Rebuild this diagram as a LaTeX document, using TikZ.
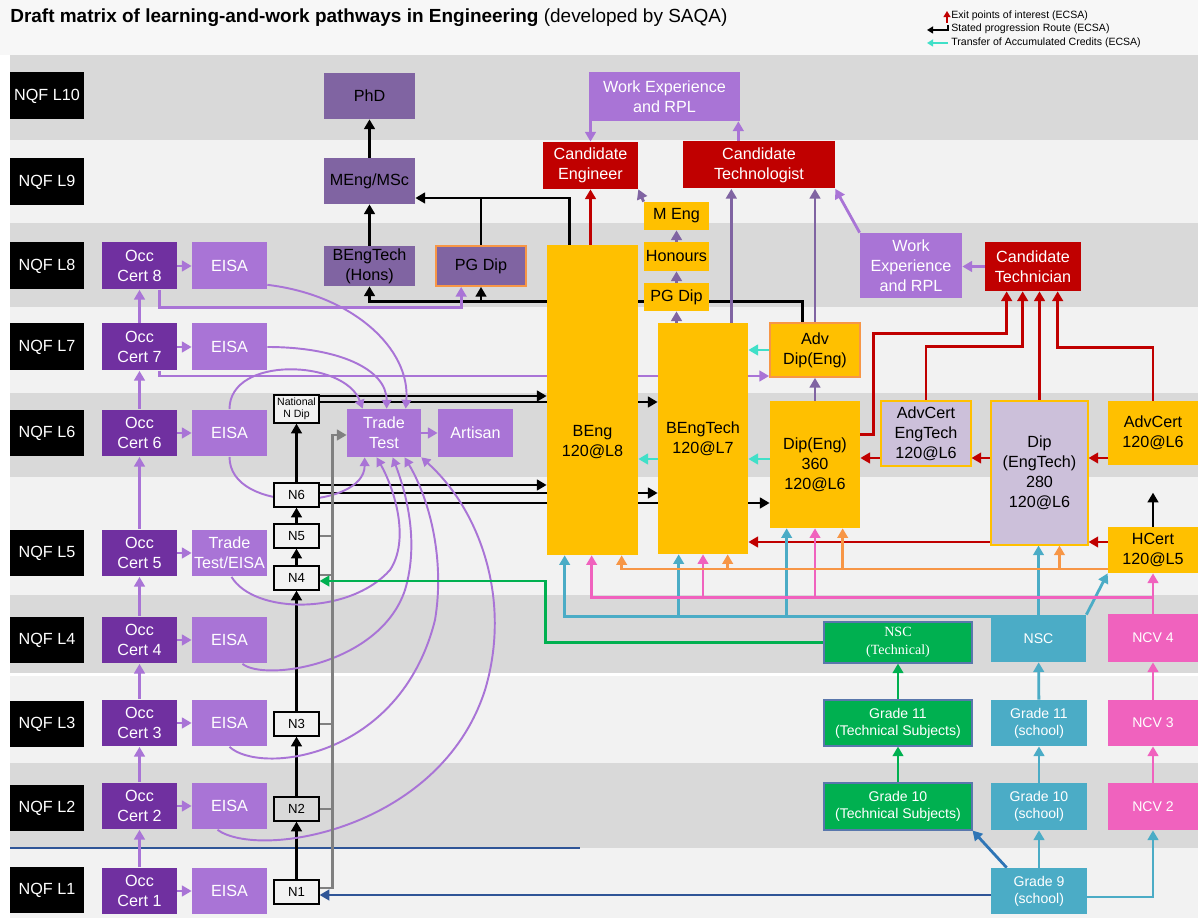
\documentclass[tikz,border=0pt]{standalone}
\usepackage{fontspec}
\setmainfont{Liberation Sans}
\newfontfamily\nscserif{Liberation Serif}
\usetikzlibrary{arrows.meta,calc,positioning}
\definecolor{banddark}{HTML}{D9D9D9}
\definecolor{bandlight}{HTML}{F2F2F2}
\definecolor{occpurple}{HTML}{7030A0}
\definecolor{eisapurple}{HTML}{A974D6}
\definecolor{degpurple}{HTML}{8064A2}
\definecolor{candred}{HTML}{C00000}
\definecolor{qualyellow}{HTML}{FFC000}
\definecolor{lavender}{HTML}{CCC0DA}
\definecolor{techgreen}{HTML}{00B050}
\definecolor{schoolblue}{HTML}{4BACC6}
\definecolor{ncvpink}{HTML}{F062BE}
\definecolor{hcorange}{HTML}{F79646}
\definecolor{xfercyan}{HTML}{40E0C8}
\definecolor{navyline}{HTML}{2F5597}
\definecolor{diagblue}{HTML}{2E75B6}
\pgfdeclarelayer{bands}
\pgfdeclarelayer{wires}
\pgfsetlayers{bands,wires,main}

\begin{document}
\begin{tikzpicture}[x=0.02cm, y=-0.02cm, >={Triangle[length=5.5pt,width=6pt]},
  box/.style={rectangle, inner sep=1pt, align=center, font=\fontsize{9.2}{11.3}\selectfont},
  nqf/.style={box, fill=black, text=white, minimum width=1.48cm, minimum height=0.94cm},
  occ/.style={box, fill=occpurple, text=white, minimum width=1.5cm, minimum height=0.94cm},
  eisa/.style={box, fill=eisapurple, text=white, minimum width=1.5cm, minimum height=0.94cm},
  nlev/.style={box, draw=black, fill=bandlight, line width=0.7pt, minimum width=0.9cm, minimum height=0.48cm, font=\fontsize{7.5}{8}\selectfont},
  deg/.style={box, fill=degpurple, text=black, minimum width=1.82cm, minimum height=0.92cm},
  cand/.style={box, fill=candred, text=white, minimum height=0.94cm},
  wexp/.style={box, fill=eisapurple, text=white},
  qual/.style={box, fill=qualyellow, text=black},
  lav/.style={box, fill=lavender, draw=qualyellow, line width=0.6pt, text=black},
  tech/.style={box, fill=techgreen, draw=navyline!80, line width=0.6pt, text=white, minimum width=2.96cm, font=\fontsize{8}{9.8}\selectfont},
  school/.style={box, fill=schoolblue, text=white, minimum width=1.92cm, minimum height=0.92cm, font=\fontsize{8}{9.8}\selectfont},
  ncv/.style={box, fill=ncvpink, text=white, minimum width=1.8cm, minimum height=0.94cm, font=\fontsize{8}{9.8}\selectfont},
  prog/.style={draw=black, line width=1.6pt, ->},
  exitl/.style={draw=candred, line width=1.6pt, ->},
  degl/.style={draw=degpurple, line width=1.6pt, ->},
  wl/.style={draw=eisapurple, line width=1.6pt, ->},
  arcl/.style={draw=eisapurple, line width=1.1pt, >={Triangle[length=5pt,width=5.5pt]}, ->},
  xfer/.style={draw=xfercyan, line width=1.6pt, ->},
  grayl/.style={draw=gray, line width=1.6pt, ->},
  greenl/.style={draw=techgreen, line width=1.6pt, ->},
  bluel/.style={draw=schoolblue, line width=1.6pt, ->},
  pinkl/.style={draw=ncvpink, line width=1.6pt, ->},
  orangel/.style={draw=hcorange, line width=1.6pt, ->},
  navyl/.style={draw=navyline, line width=1.6pt, ->},
  legtip/.style={line width=1pt, >={Triangle[length=3.5pt,width=4pt]}}]
\useasboundingbox (0,0) rectangle (1198,918);

% bands
\begin{pgfonlayer}{bands}
\fill[white] (0,0) rectangle (1198,918);
\fill[black!3] (0,0) rectangle (1198,55);
\fill[banddark] (10,55) rectangle (1198,140);
\fill[bandlight] (10,140) rectangle (1198,223);
\fill[banddark] (10,223) rectangle (1198,307);
\fill[bandlight] (10,307) rectangle (1198,393);
\fill[banddark] (10,393) rectangle (1198,477);
\fill[bandlight] (10,477) rectangle (1198,595);
\fill[banddark] (10,595) rectangle (1198,673);
\fill[bandlight] (10,676) rectangle (1198,763);
\fill[banddark] (10,763) rectangle (1198,848);
\fill[bandlight] (10,848) rectangle (1198,918);
\draw[navyline, line width=0.8pt] (10,848) -- (580,848);
\end{pgfonlayer}

% title and legend
\node[anchor=west, inner sep=0pt, font=\fontsize{10.8}{13}\selectfont] (title) at (10,18) {\textbf{Draft matrix of learning-and-work pathways in Engineering} (developed by SAQA)};
\node[anchor=west, inner sep=0pt, font=\fontsize{6}{7}\selectfont] (lgexit) at (951,16) {Exit points of interest (ECSA)};
\node[anchor=west, inner sep=0pt, font=\fontsize{6}{7}\selectfont] (lgprog) at (951,29) {Stated progression Route (ECSA)};
\node[anchor=west, inner sep=0pt, font=\fontsize{6}{7}\selectfont] (lgxfer) at (951,43) {Transfer of Accumulated Credits (ECSA)};
\draw[exitl, legtip] ($(lgexit.west)+(-4,7)$) -- ($(lgexit.west)+(-4,-5)$);
\draw[prog, legtip] ($(lgprog.west)+(-3,-4)$) -- ($(lgprog.west)+(-3,1)$) -- ($(lgprog.west)+(-24,1)$);
\draw[xfer, legtip] ($(lgxfer.west)+(-3,0)$) -- ($(lgxfer.west)+(-24,0)$);

% levels, occupational certificates, EISA
\foreach \lv/\yy in {10/96,9/182,8/266,7/347,6/433,5/553,4/640,3/724,2/808,1/890}
  \node[nqf] (nqf\lv) at (47,\yy) {NQF L\lv};
\foreach \lv/\yy in {8/266,7/347,6/433,5/553,4/640,3/723,2/806,1/891}
  \node[occ] (occ\lv) at (139.5,\yy) {Occ\\Cert \lv};
\foreach \lv/\yy in {8/266,7/347,6/433,4/640,3/723,2/806,1/891}
  \node[eisa] (eisa\lv) at (229.5,\yy) {EISA};
\node[eisa] (eisa5) at (229.5,553) {Trade\\Test/EISA};

% N levels
\node[nlev] (n1) at (296.5,892) {N1};
\node[nlev, fill=banddark] (n2) at (296.5,809) {N2};
\node[nlev] (n3) at (296.5,724) {N3};
\node[nlev] (n4) at (296.5,578) {N4};
\node[nlev] (n5) at (296.5,536) {N5};
\node[nlev] (n6) at (296.5,495) {N6};
\node[nlev, minimum height=0.56cm, font=\fontsize{6}{6.8}\selectfont] (nnd) at (296.5,409) {National\\N Dip};
\node[eisa, minimum width=1.48cm, minimum height=0.96cm] (trade) at (384,433) {Trade\\Test};
\node[eisa, minimum height=0.96cm] (artisan) at (475.5,433) {Artisan};

% postgraduate
\node[deg] (phd) at (369.5,96) {PhD};
\node[deg] (meng) at (369.5,181) {MEng/MSc};
\node[deg, minimum height=0.8cm] (hons) at (369.5,266) {BEngTech\\(Hons)};
\node[deg, draw=hcorange, line width=1pt, minimum width=1.8cm, minimum height=0.8cm] (pgdip) at (481,266) {PG Dip};

% degrees
\node[qual, minimum width=1.82cm, minimum height=6.2cm] (beng) at (592.5,400) {};
\node[box, text=black] (bengtxt) at (592.5,442) {BEng\\120@L8};
\node[qual, minimum width=1.8cm, minimum height=4.62cm] (bengtech) at (703,438.5) {BEngTech\\120@L7};
\node[qual, minimum width=1.3cm, minimum height=0.56cm] (pgy) at (676.5,297) {PG Dip};
\node[qual, minimum width=1.3cm, minimum height=0.58cm] (honours) at (676.5,256.5) {Honours};
\node[qual, minimum width=1.3cm, minimum height=0.56cm] (mengy) at (676.5,216) {M Eng};

% candidates and work experience
\node[cand, minimum width=1.9cm] (ceng) at (590.5,165.5) {Candidate\\Engineer};
\node[cand, minimum width=3.04cm] (ctech) at (759,165) {Candidate\\Technologist};
\node[wexp, minimum width=3.02cm, minimum height=0.98cm] (wetop) at (664.5,96.5) {Work Experience\\and RPL};
\node[wexp, minimum width=2.04cm, minimum height=1.3cm] (wemid) at (911,265.5) {Work\\Experience\\and RPL};
\node[cand, minimum width=1.92cm, minimum height=0.98cm] (ctn) at (1033,266.5) {Candidate\\Technician};

% diplomas and certificates
\node[qual, draw=hcorange, line width=1pt, minimum width=1.8cm, minimum height=1.08cm] (advdip) at (815,350) {Adv\\Dip(Eng)};
\node[qual, minimum width=1.8cm, minimum height=2.54cm] (dipeng) at (815,464.5) {Dip(Eng)\\360\\120@L6};
\node[lav, minimum width=1.8cm, minimum height=1.3cm] (ace) at (926,433.5) {AdvCert\\EngTech\\120@L6};
\node[lav, minimum width=1.94cm, minimum height=2.88cm] (det) at (1039.5,473) {Dip\\(EngTech)\\280\\120@L6};
\node[qual, minimum width=1.8cm, minimum height=1.28cm] (acl6) at (1153,433) {AdvCert\\120@L6};
\node[qual, minimum width=1.8cm, minimum height=0.92cm] (hcert) at (1153,550) {HCert\\120@L5};

% school and NCV
\node[tech, minimum height=0.82cm, font=\fontsize{8}{10}\nscserif] (nsct) at (898,642.5) {NSC\\(Technical)};
\node[tech, minimum height=0.92cm] (gr11t) at (898,723) {Grade 11\\(Technical Subjects)};
\node[tech, minimum height=0.94cm] (gr10t) at (898,806.5) {Grade 10\\(Technical Subjects)};
\node[school, minimum width=1.9cm, minimum height=0.94cm] (nsc) at (1038.5,638.5) {NSC};
\node[school] (gr11s) at (1039,723) {Grade 11\\(school)};
\node[school, minimum height=0.94cm] (gr10s) at (1039,806.5) {Grade 10\\(school)};
\node[school] (gr9) at (1039,891) {Grade 9\\(school)};
\node[ncv, minimum height=0.96cm] (ncv4) at (1153,638) {NCV 4};
\node[ncv, minimum height=0.92cm] (ncv3) at (1153,723) {NCV 3};
\node[ncv] (ncv2) at (1153,806.5) {NCV 2};

\begin{pgfonlayer}{wires}
% stated progression
\draw[prog] (meng) -- (phd);
\draw[prog] (hons) -- (meng);
\coordinate (mjoin) at ($(meng.east)+(0,17)$);
\draw[prog] ($(beng.north west)+(23,0)$) |- (mjoin);
\draw[prog, -] (pgdip.north) -- (pgdip.north |- mjoin);
\draw[prog] ($(advdip.north west)+(33,0)$) |- ($(hons.south)+(0,15)$) -- (hons.south);
\draw[prog] ($(pgdip.south)+(0,14)$) -- (pgdip.south);
\draw[prog] (n1) -- (n2);
\draw[prog] (n2) -- (n3);
\draw[prog] (n3) -- (n4);
\draw[prog] (n4) -- (n5);
\draw[prog] (n5) -- (n6);
\draw[prog] (n6) -- (nnd);
\coordinate (nd1) at ($(nnd.east)+(0,-13)$);
\coordinate (nd2) at ($(nnd.east)+(0,-7)$);
\draw[prog] (nd1) -- (nd1 -| beng.west);
\draw[prog] (nd2) -- (nd2 -| bengtech.west);
\coordinate (n6a) at ($(n6.east)+(0,-10)$);
\coordinate (n6b) at ($(n6.east)+(0,-2)$);
\coordinate (n6c) at ($(n6.east)+(0,8)$);
\draw[prog] (n6a) -- (n6a -| beng.west);
\draw[prog] (n6b) -- (n6b -| bengtech.west);
\draw[prog] (n6c) -- (n6c -| dipeng.west);
\coordinate (hcup) at ($(hcert.north)+(0,-34)$);
\draw[prog] (hcert.north) -- (hcup);

% exit points
\draw[exitl] (beng.north -| ceng.south) -- (ceng.south);
\draw[exitl] ($(dipeng.east)+(0,-30)$) -- ++(13,0) |- ($(ctn.south west)+(22,42)$) -- ($(ctn.south west)+(22,0)$);
\draw[exitl] (ace.north) |- ($(ctn.south west)+(38,55)$) -- ($(ctn.south west)+(38,0)$);
\draw[exitl] (det.north) -- (det.north |- ctn.south);
\draw[exitl] (acl6.north) |- ($(ctn.south west)+(73,56)$) -- ($(ctn.south west)+(73,0)$);
\coordinate (r1) at ($(acl6.west)+(0,25)$);
\coordinate (r2) at (det.west |- r1);
\coordinate (r3) at (ace.west |- r1);
\draw[exitl] (r1) -- (r1 -| det.east);
\draw[exitl] (r2) -- (r2 -| ace.east);
\draw[exitl] (r3) -- (r3 -| dipeng.east);
\coordinate (r4) at ($(hcert.west)+(0,-8)$);
\coordinate (r5) at (det.west |- r4);
\draw[exitl] (r4) -- (r4 -| det.east);
\draw[exitl] (r5) -- (r5 -| bengtech.east);

% degree routes
\draw[degl] (pgy) -- (honours);
\draw[degl] (honours) -- (mengy);
\draw[degl] (pgy.south |- bengtech.north) -- (pgy.south);
\draw[degl] (mengy.north west) -- (ceng.south east);
\coordinate (bt1) at ($(bengtech.north east)+(-17,0)$);
\draw[degl] (bt1) -- (bt1 |- ctech.south);
\draw[degl] (advdip.north) -- (advdip.north |- ctech.south);
\draw[degl] (dipeng) -- (advdip);

% work experience and occupational routes
\draw[wl] (wetop.south -| ceng.north) -- (ceng.north);
\coordinate (wt) at ($(wetop.south east)+(-2,0)$);
\draw[wl] (wt |- ctech.north) -- (wt);
\draw[wl] (wemid.north west) -- (ctech.south east);
\draw[wl] (ctn.west) -- (ctn.west -| wemid.east);
\foreach \i/\j in {1/2,2/3,3/4,4/5,5/6,6/7,7/8}
  \draw[wl] (occ\i) -- (occ\j);
\foreach \i in {1,...,8}
  \draw[wl] (occ\i) -- (eisa\i);
\draw[wl] (trade) -- (artisan);
\draw[wl] ($(occ8.south west)+(58,0)$) |- ($(pgdip.south west)+(26,21)$) -- ($(pgdip.south west)+(26,0)$);
\draw[wl] ($(occ7.south west)+(58,0)$) |- ($(advdip.west)+(0,26)$);

% arcs into the trade test
\draw[arcl] ($(eisa8.south east)+(0,-5)$) .. controls +(85,10) and +(5,-60) .. ($(trade.north west)+(59,0)$);
\draw[arcl] (eisa7.east) .. controls +(70,0) and +(0,-40) .. ($(trade.north west)+(40,0)$);
\draw[arcl] (eisa6.north) .. controls +(0,-54) and +(-18,-49) .. ($(trade.north west)+(16,0)$);
\draw[arcl] (eisa6.south) .. controls +(0,58) and +(0,52) .. ($(trade.south west)+(18,0)$);
\draw[arcl] ($(eisa5.south)+(2,0)$) .. controls +(23,38) and (350,615) .. (390,570) .. controls (410,540) and (395,490) .. ($(trade.south west)+(30,0)$);
\draw[arcl] ($(eisa4.south)+(13,0)$) .. controls +(22,18) and (380,665) .. (405,590) .. controls (420,540) and (405,490) .. ($(trade.south west)+(46,0)$);
\draw[arcl] (eisa3.south) .. controls +(30,28) and (400,760) .. (435,620) .. controls (445,560) and (430,500) .. ($(trade.south west)+(58,0)$);
\draw[arcl] ($(eisa2.south)+(-12,0)$) .. controls +(42,30) and (440,830) .. (485,690) .. controls (512,600) and (480,510) .. (trade.south east);

% credit transfer
\coordinate (c1) at ($(bengtech.west)+(0,20.5)$);
\coordinate (c2) at ($(dipeng.west)+(0,-5.5)$);
\draw[xfer] (c1) -- (c1 -| beng.east);
\draw[xfer] (c2) -- (c2 -| bengtech.east);
\draw[xfer] (advdip.west) -- (advdip.west -| bengtech.east);

% N levels to trade test
\coordinate (gx) at ($(trade.west)+(-14,2)$);
\draw[grayl] ($(n1.east)+(0,-4)$) -| (gx) -- (gx -| trade.west);
\foreach \nn in {n2,n3,n5}
  \draw[grayl, -] (\nn.east) -- (\nn.east -| gx);
\coordinate (g4) at ($(n4.east)+(0,-3)$);
\draw[grayl, -] (g4) -- (g4 -| gx);

% technical school
\coordinate (g1) at ($(n4.east)+(0,3)$);
\draw[greenl] (nsct.west) -| ($(g1)+(226,0)$) -- (g1);
\draw[greenl] (gr10t) -- (gr11t);
\draw[greenl] (gr11t) -- (nsct);

% school
\draw[bluel] (gr9) -- (gr10s);
\draw[bluel] (gr10s) -- (gr11s);
\draw[bluel] (gr11s) -- (nsc);
\draw[bluel] (nsc.north) -- (nsc.north |- det.south);
\coordinate (b0) at ($(nsc.north)+(0,2)$);
\draw[bluel] (b0) -| ($(beng.south west)+(18,0)$);
\coordinate (b2) at ($(bengtech.south west)+(21,0)$);
\coordinate (b3) at ($(dipeng.south west)+(17,0)$);
\draw[bluel] (b2 |- b0) -- (b2);
\draw[bluel] (b3 |- b0) -- (b3);
\draw[bluel] (nsc.north east) -- (hcert.south west);
\draw[bluel] ($(gr9.east)+(0,6)$) -| (ncv2.south);
\draw[navyl, draw=diagblue] ($(gr9.north west)+(16,0)$) -- (gr10t.south east);
\coordinate (d1) at ($(n1.east)+(0,3)$);
\draw[navyl] (d1 -| gr9.west) -- (d1);

% NCV
\draw[pinkl] (ncv2) -- (ncv3);
\draw[pinkl] (ncv3) -- (ncv4);
\draw[pinkl] (ncv4) -- (hcert);
\coordinate (p0) at ($(hcert.south)+(0,24)$);
\draw[pinkl] (p0) -| ($(beng.south west)+(45,0)$);
\draw[pinkl] (p0 -| bengtech.south) -- (bengtech.south);
\draw[pinkl] (p0 -| dipeng.south) -- (dipeng.south);

% higher certificate
\coordinate (o0) at ($(hcert.west)+(0,19)$);
\draw[orangel] (o0) -| ($(beng.south west)+(75,0)$);
\coordinate (o2) at ($(bengtech.south west)+(70,0)$);
\coordinate (o3) at ($(dipeng.south west)+(73,0)$);
\coordinate (o4) at ($(det.south west)+(69,0)$);
\draw[orangel] (o2 |- o0) -- (o2);
\draw[orangel] (o3 |- o0) -- (o3);
\draw[orangel] (o4 |- o0) -- (o4);
\end{pgfonlayer}
\end{tikzpicture}
\end{document}
